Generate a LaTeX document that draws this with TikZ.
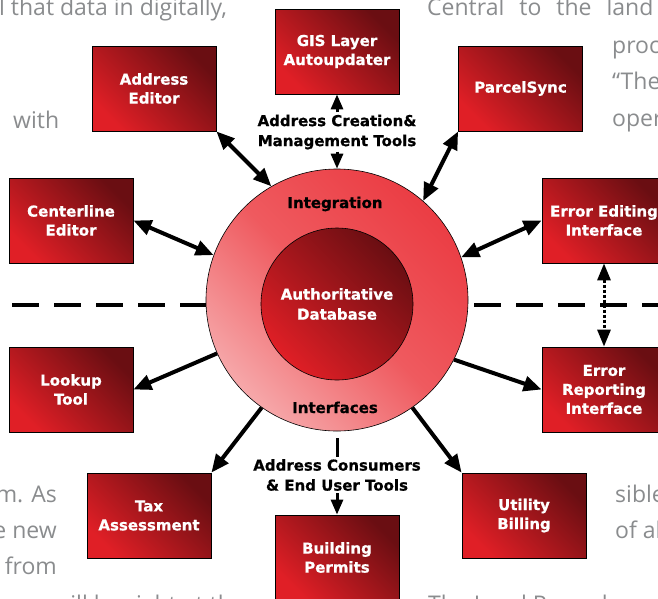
\documentclass[tikz,border=0pt]{standalone}
\usepackage{fontspec}
\setmainfont{DejaVu Sans}[BoldFeatures={FakeBold=0.7}]
\newfontfamily\bodyfont{Open Sans}
\usetikzlibrary{arrows.meta}

\definecolor{boxlight}{HTML}{E01F26}
\definecolor{boxdark}{HTML}{6A0E12}
\definecolor{ringtop}{HTML}{EB3D44}
\definecolor{ringmid}{HTML}{EF5A5F}
\definecolor{ringlow}{HTML}{F6A8AA}
\definecolor{pagegray}{HTML}{8A8C8E}

\begin{document}
\begin{tikzpicture}[x=1pt,y=-1pt]
  \tikzstyle{tool}=[draw=black,line width=0.8pt,minimum width=124pt,minimum height=85pt,inner sep=0pt,align=center,text=white,font=\fontsize{15}{19}\selectfont\bfseries,top color=boxdark,bottom color=boxlight,shading angle=-45]
  \tikzstyle{ringbody}=[circle,draw=black,line width=0.6pt,minimum size=262pt,inner sep=0pt,top color=ringtop,bottom color=ringlow,middle color=ringmid,shading angle=-45]
  \tikzstyle{corebody}=[circle,draw=black,line width=0.6pt,minimum size=152pt,inner sep=0pt,align=center,text=white,font=\fontsize{15}{20}\selectfont\bfseries,top color=boxdark,bottom color=boxlight,shading angle=-45]
  \tikzstyle{note}=[font=\fontsize{15}{20}\selectfont\bfseries,align=center,inner sep=2pt]
  \tikzstyle{page}=[text=pagegray,font=\bodyfont\fontsize{23}{28}\selectfont,inner sep=0pt]
  \tikzstyle{both}=[line width=4pt,{Triangle[length=18pt,width=15pt]}-{Triangle[length=18pt,width=15pt]}]
  \tikzstyle{feed}=[line width=4pt,-{Triangle[length=18pt,width=15pt]}]
  \tikzstyle{short}=[line width=3pt,-{Triangle[length=15pt,width=12pt]}]
  \tikzstyle{divider}=[line width=4pt,dash pattern=on 27pt off 15pt]
  \tikzstyle{report}=[line width=3pt,dash pattern=on 3pt off 2pt,{Triangle[length=17pt,width=13pt]}-{Triangle[length=17pt,width=13pt]}]

  \useasboundingbox (0,0) rectangle (658,598);
  \clip (0,0) rectangle (658,598);

  % text of the page round the figure
  \node[page,anchor=base west] (p1) at (-1,15) {l that data in digitally,};
  \node[page,anchor=base west] (p2) at (13,128) {with};
  \node[page,anchor=base east] (p3) at (57,502) {m. As};
  \node[page,anchor=base east] (p4) at (57,538) {e new};
  \node[page,anchor=base east] (p5) at (57,574) {l from};
  \node[page,anchor=base east] (p6) at (245,612) {will be right at the};
  \node[page,anchor=base west] (p7) at (427,15) {Central\hspace{15pt}to\hspace{15pt}the\hspace{15pt}land};
  \node[page,anchor=base west] (p8) at (612,53) {proc};
  \node[page,anchor=base west] (p9) at (612,89) {“The};
  \node[page,anchor=base west] (p10) at (612,126) {oper};
  \node[page,anchor=base west] (p11) at (615,502) {sible};
  \node[page,anchor=base west] (p12) at (615,538) {of al};
  \node[page,anchor=base west] (p13) at (428,612) {The Land Records};

  % divider
  \coordinate (dashL) at (12,305);
  \coordinate (dashR) at (670,305);
  \draw[divider] (dashL) -- (dashR);

  % centre
  \node[ringbody] (ring) at (337,300) {};
  \node[corebody] (core) at (337,304) {Authoritative\\Database};
  \node[note,anchor=base] (intg) at (335,208) {Integration};
  \node[note,anchor=base] (intf) at (335,413) {Interfaces};

  % tools
  \node[tool] (gis) at (337,51.5) {GIS Layer\\Autoupdater};
  \node[tool] (addr) at (154,88.5) {Address\\Editor};
  \node[tool] (parcel) at (520.5,88.5) {ParcelSync};
  \node[tool] (cent) at (71,220.5) {Centerline\\Editor};
  \node[tool] (erred) at (604,220.5) {Error Editing\\Interface};
  \node[tool] (look) at (71,389.5) {Lookup\\Tool};
  \node[tool] (errrep) at (604,389.5) {Error\\Reporting\\Interface};
  \node[tool] (tax) at (149,515.5) {Tax\\Assessment};
  \node[tool] (util) at (524,515.5) {Utility\\Billing};
  \node[tool] (permits) at (337,557.5) {Building\\Permits};

  \node[note] (mgmt) at (337,132) {Address Creation\&\\Management Tools};
  \node[note] (users) at (337,475) {Address Consumers\\\& End User Tools};

  % links
  \draw[both] (addr.south east) -- (ring.120);
  \draw[both] (cent.east) -- (ring.160);
  \draw[both] (parcel.south west) -- (ring.49);
  \draw[both] (erred.west) -- (ring.19);
  \draw[feed] (ring.204) -- (look.east);
  \draw[feed] (ring.235) -- (tax.north east);
  \draw[feed] (ring.333) -- (errrep.west);
  \draw[feed] (ring.305) -- (util.north west);
  \draw[short] (mgmt) -- (gis);
  \draw[short] (mgmt) -- (ring.north);
  \draw[line width=3pt,shorten <=7pt] (ring.south) -- (users);
  \draw[short] (users) -- (permits);
  \draw[report] (erred) -- (errrep);
\end{tikzpicture}
\end{document}
